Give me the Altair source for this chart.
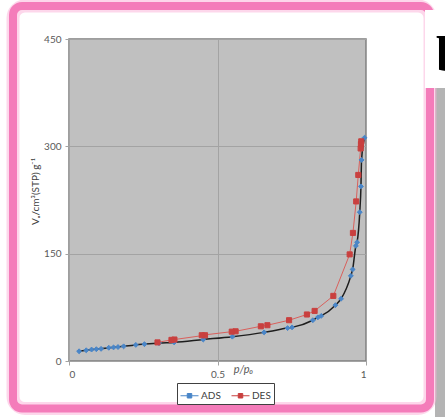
import altair as alt
import pandas as pd

# ---- data ----
ads_p = [0.034, 0.058, 0.076, 0.092, 0.108, 0.134, 0.150, 0.165, 0.184, 0.225, 0.254,
         0.303, 0.354, 0.452, 0.550, 0.657, 0.736, 0.751, 0.821, 0.838, 0.849, 0.897,
         0.916, 0.949, 0.955, 0.966, 0.970, 0.979, 0.983, 0.985, 0.995]
ads_v = [13.6, 15, 16, 16.5, 17, 18.5, 19, 19.5, 20.5, 22.5, 23.5,
         25, 26, 30, 34, 40, 46, 47, 57, 61, 63, 78,
         87, 119, 128, 161, 166, 208, 244, 281, 312]
des_p = [0.984, 0.983, 0.982, 0.974, 0.967, 0.956, 0.945, 0.890, 0.827, 0.801,
         0.741, 0.668, 0.646, 0.561, 0.548, 0.458, 0.447, 0.355, 0.345, 0.298]
des_v = [307, 303, 297, 260, 223, 179, 149, 91, 70, 65,
         57, 50, 48.5, 41.5, 41, 36, 36, 30, 29.5, 26]

series_names = ["ADS", "DES"]
series_colors = ["#4a86c8", "#c9403f"]
x_ticks = [0, 0.5, 1]
y_ticks = [0, 150, 300, 450]

ads = pd.DataFrame({"p": ads_p, "v": ads_v, "series": series_names[0]})
des = pd.DataFrame({"p": des_p, "v": des_v, "series": series_names[1]})

W, H = 297, 322
FONT = "Lato"

xs = alt.Scale(domain=[0, 1], nice=False, zero=False)
ys = alt.Scale(domain=[0, 450], nice=False)
cscale = alt.Scale(domain=series_names, range=series_colors)

x_enc = alt.X("p:Q", scale=xs, axis=alt.Axis(
    values=x_ticks, format="~g", title="p/p₀", titleX=174, titleY=8,
    titleAlign="center", titleBaseline="middle", titleFontStyle="italic",
    titleFont=FONT, titleFontSize=11, titleFontWeight="normal", titleColor="#595959"))
y_enc = alt.Y("v:Q", scale=ys, axis=alt.Axis(
    values=y_ticks, title="Vₐ/cm³(STP) g⁻¹", titleX=-34, titleY=152,
    titleAlign="center", titleBaseline="middle", titleAngle=270,
    titleFont=FONT, titleFontSize=10, titleFontWeight="normal", titleColor="#404040"))

legend = alt.Legend(
    title=None, orient="none", legendX=108, legendY=344, direction="horizontal",
    symbolType="M-1,0H1M-0.25,-0.25H0.25V0.25H-0.25Z", symbolSize=324,
    symbolStrokeWidth=1, strokeColor="#404040", fillColor="white", padding=3,
    labelFont=FONT, labelFontSize=10, labelColor="#404040", columnPadding=8,
    labelOffset=2, cornerRadius=0)

one = alt.Data(values=[{}])

# ---- decorations (frame) ----
grey_band = alt.Chart(one).mark_rect(color="#b4b4b4").encode(
    x=alt.value(366), x2=alt.value(376), y=alt.value(49), y2=alt.value(378))
glow = alt.Chart(one).mark_rect(fill=None, stroke="#fcb6da", strokeWidth=13,
                                 strokeOpacity=0.55, cornerRadius=12).encode(
    x=alt.value(-56), x2=alt.value(361), y=alt.value(-33), y2=alt.value(369.5))
frame = alt.Chart(one).mark_rect(fill=None, stroke="#f47cba", strokeWidth=8,
                                  cornerRadius=9).encode(
    x=alt.value(-56), x2=alt.value(361), y=alt.value(-33), y2=alt.value(369.5))
white_box = alt.Chart(one).mark_rect(color="white").encode(
    x=alt.value(356), x2=alt.value(378), y=alt.value(-29), y2=alt.value(49))
letter = alt.Chart(one).mark_text(
    text="b", font="Liberation Serif", fontSize=50, fontWeight="bold",
    align="left", baseline="alphabetic", color="black").encode(
    x=alt.value(367), y=alt.value(32))

# ---- data layers ----
ads_line = alt.Chart(ads).mark_line(color="#1e1e1e", strokeWidth=1.5,
                                     interpolate="monotone").encode(x=x_enc, y=y_enc)
des_line = alt.Chart(des).mark_line(color="#d9605c", strokeWidth=1).encode(
    x=x_enc, y=y_enc, order=alt.Order("v:Q"))
ads_pts = alt.Chart(ads).mark_point(shape="diamond", filled=True, size=24,
                                    strokeWidth=1, opacity=1).encode(
    x=x_enc, y=y_enc,
    fill=alt.Fill("series:N", scale=cscale, legend=legend),
    stroke=alt.Stroke("series:N", scale=cscale, legend=legend))
des_pts = alt.Chart(des).mark_point(shape="square", filled=True, size=26,
                                    strokeWidth=1, opacity=1).encode(
    x=x_enc, y=y_enc,
    fill=alt.Fill("series:N", scale=cscale, legend=legend),
    stroke=alt.Stroke("series:N", scale=cscale, legend=legend))

chart = alt.layer(
    grey_band, glow, frame, white_box, letter,
    ads_line, des_line, ads_pts, des_pts
).properties(
    width=W, height=H,
    padding={"left": 69, "top": 39, "right": 79, "bottom": 57},
    autosize=alt.AutoSizeParams(type="none"),
    background="white",
).configure_view(
    fill="#c0c0c0", stroke="#7f7f7f", strokeWidth=1.5
).configure_axis(
    grid=True, gridColor="#a3a3a3", gridWidth=1, domain=False,
    tickColor="#a3a3a3", tickSize=4, labelPadding=4,
    labelFont=FONT, labelFontSize=10, labelColor="#595959"
)

chart.save("out.html", embed_options={"renderer": "svg", "actions": False})
